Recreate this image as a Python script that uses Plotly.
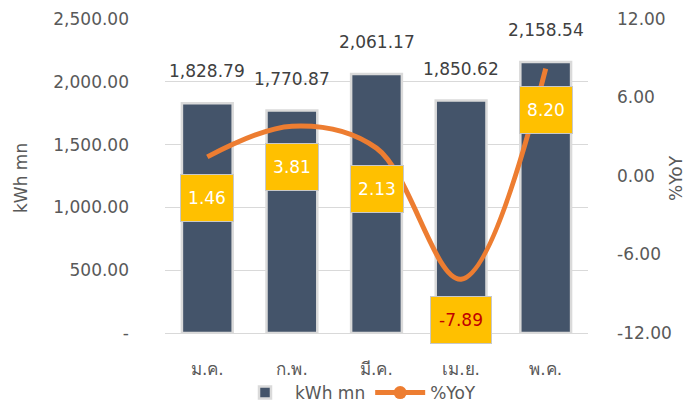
import plotly.graph_objects as go

months = ["ม.ค.", "ก.พ.", "มี.ค.", "เม.ย.", "พ.ค."]
kwh = [1828.79, 1770.87, 2061.17, 1850.62, 2158.54]
yoy = [1.46, 3.81, 2.13, -7.89, 8.20]
left_ticks = [0, 500, 1000, 1500, 2000, 2500]
left_labels = ["-", "500.00", "1,000.00", "1,500.00", "2,000.00", "2,500.00"]
right_ticks = [-12, -6, 0, 6, 12]
right_labels = ["-12.00", "-6.00", "0.00", "6.00", "12.00"]

FONT = "DejaVu Sans"
OFF = 8  # page body margin in the browser
W, H = 691 - OFF, 407 - OFF
# plot area in window pixels: x 165..588, y 19..333
L, R, T, B = 165 - OFF, 691 - 588, 19 - OFF, 407 - 333
PW, PH = W - L - R, H - T - B


def px(x):
    return (x - OFF - L) / PW


def py(y):
    return (H - B - (y - OFF)) / PH


fig = go.Figure()
fig.add_trace(go.Bar(
    x=months, y=kwh, name="kWh mn", width=0.6,
    marker=dict(color="#44546A", line=dict(color="#DADADA", width=2.5)),
))
fig.add_trace(go.Scatter(
    x=months, y=yoy, yaxis="y2", mode="lines", showlegend=False,
    line=dict(color="#ED7D31", width=5, shape="spline", smoothing=1.0),
))
fig.add_trace(go.Scatter(
    x=[None], y=[None], yaxis="y2", mode="lines+markers", name="%YoY",
    line=dict(color="#ED7D31", width=5),
    marker=dict(color="#ED7D31", size=13),
))

annotations = []
for m, v in zip(months, kwh):
    annotations.append(dict(
        x=m, y=v, xref="x", yref="y", text=f"{v:,.2f}", showarrow=False,
        yshift=32, font=dict(family=FONT, size=17, color="#404040"),
    ))
for m, v in zip(months, yoy):
    annotations.append(dict(
        x=m, y=v, xref="x", yref="y2", text=f"{v:.2f}", showarrow=False,
        yshift=-41, bgcolor="#FFC000", bordercolor="#C8C8C8", borderwidth=1,
        width=58 if v < 0 else 50, height=44,
        font=dict(family=FONT, size=17, color="#C00000" if v < 0 else "#FFFFFF"),
    ))
annotations.append(dict(
    x=px(21), y=py(178), xref="paper", yref="paper", text="kWh mn", textangle=-90,
    xanchor="center", yanchor="middle",
    showarrow=False, font=dict(family=FONT, size=17, color="#595959"),
))
annotations.append(dict(
    x=px(676), y=py(178), xref="paper", yref="paper", text="%YoY", textangle=-90,
    xanchor="center", yanchor="middle",
    showarrow=False, font=dict(family=FONT, size=17, color="#595959"),
))

fig.update_layout(
    width=W, height=H,
    margin=dict(l=L, r=R, t=T, b=B, autoexpand=False),
    paper_bgcolor="white", plot_bgcolor="white",
    font=dict(family=FONT, size=17, color="#595959"),
    bargap=0.4,
    showlegend=True,
    legend=dict(orientation="h", x=px(358), xanchor="center", y=py(393), yanchor="middle",
                font=dict(family=FONT, size=17, color="#595959"), itemwidth=50,
                tracegroupgap=0),
    xaxis=dict(showgrid=False, showline=False, ticks="", tickfont=dict(size=17),
               automargin=False, ticklabelstandoff=24),
    yaxis=dict(range=[0, 2500], tickvals=left_ticks, ticktext=left_labels,
               showgrid=True, gridcolor="#D9D9D9", gridwidth=1,
               zeroline=True, zerolinecolor="#D9D9D9", zerolinewidth=1,
               ticks="", ticklabelstandoff=35, automargin=False),
    yaxis2=dict(range=[-12, 12], tickvals=right_ticks, ticktext=right_labels,
                overlaying="y", side="right", showgrid=False, zeroline=False,
                ticks="", ticklabelstandoff=28, automargin=False),
    annotations=annotations,
)
fig.write_html("out.html")
